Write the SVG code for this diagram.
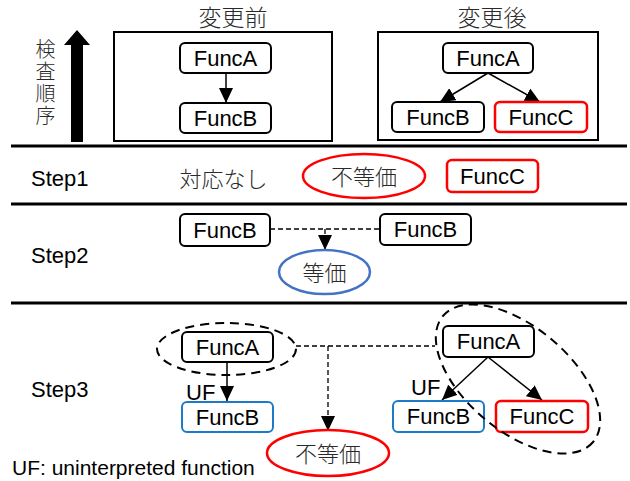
<svg xmlns="http://www.w3.org/2000/svg" width="630" height="481" viewBox="0 0 630 481">
  <style>
    .box { fill: #fff; stroke: #000; stroke-width: 2; }
    .box-red { fill: #fff; stroke: #ff0000; stroke-width: 2.5; }
    .box-blue { fill: #fff; stroke: #1c7bc9; stroke-width: 2; }
    .lbl { font-family: "Liberation Sans", Arial, sans-serif; font-size: 22px; fill: #000; text-anchor: middle; }
    .step { font-family: "Liberation Sans", Arial, sans-serif; font-size: 22px; fill: #000; }
    .jp { font-family: "Noto Sans CJK JP", "Noto Sans CJK SC", sans-serif; font-size: 22px; fill: #2a2a2a; font-weight: 300; text-anchor: middle; }
    .rule { stroke: #000; stroke-width: 3; }
    .frame { fill: none; stroke: #000; stroke-width: 2; }
    .edge { stroke: #000; stroke-width: 1.5; fill: none; }
    .dash { stroke: #000; stroke-width: 1.3; fill: none; stroke-dasharray: 5 3; }
    .group { fill: none; stroke: #000; stroke-width: 2; stroke-dasharray: 9 6; }
    .ell-red { fill: #fff; stroke: #ff0000; stroke-width: 2.5; }
    .ell-blue { fill: #fff; stroke: #4472c4; stroke-width: 2.5; }
  </style>
  <defs>
    <marker id="head" markerUnits="userSpaceOnUse" markerWidth="15" markerHeight="14" refX="15" refY="7" orient="auto">
      <path d="M0,0 L15,7 L0,14 z" fill="#000"/>
    </marker>
  </defs>

  <!-- section rules -->
  <line class="rule" x1="11" y1="146" x2="627" y2="146"/>
  <line class="rule" x1="11" y1="204" x2="627" y2="204"/>
  <line class="rule" x1="11" y1="303" x2="627" y2="303"/>

  <!-- check-order indicator -->
  <g id="order">
    <text class="jp" x="45.5" y="39" style="font-size:20px; writing-mode: vertical-rl; text-anchor: start; letter-spacing: 2px">検査順序</text>
    <polygon points="77,30 90,45 83,45 83,142 71,142 71,45 64,45" fill="#000"/>
  </g>

  <!-- before / after frames -->
  <g id="before">
    <text class="jp" x="233" y="26" style="font-size:23px">変更前</text>
    <rect class="frame" x="114" y="32" width="218" height="109"/>
  </g>
  <g id="after">
    <text class="jp" x="492" y="26" style="font-size:23px">変更後</text>
    <rect class="frame" x="378" y="32" width="220" height="108"/>
  </g>

  <!-- connectors -->
  <g id="connectors">
    <line class="edge" x1="226" y1="73" x2="226" y2="103" marker-end="url(#head)"/>
    <line class="edge" x1="488" y1="73" x2="440" y2="102" marker-end="url(#head)"/>
    <line class="edge" x1="488" y1="73" x2="540" y2="102" marker-end="url(#head)"/>
    <line class="dash" x1="270" y1="229" x2="380" y2="229"/>
    <line class="dash" x1="325" y1="229" x2="325" y2="250" marker-end="url(#head)"/>
    <line class="edge" x1="227" y1="362" x2="227" y2="401" marker-end="url(#head)"/>
    <line class="edge" x1="488" y1="357" x2="442" y2="400" marker-end="url(#head)"/>
    <line class="edge" x1="488" y1="357" x2="542" y2="400" marker-end="url(#head)"/>
    <line class="dash" x1="296" y1="346" x2="435" y2="346"/>
    <line class="dash" x1="328" y1="346" x2="328" y2="431" marker-end="url(#head)"/>
  </g>

  <!-- before graph -->
  <g id="before-funcA">
    <rect class="box" x="180" y="43" width="91" height="30" rx="5"/>
    <text class="lbl" x="225.5" y="66">FuncA</text>
  </g>
  <g id="before-funcB">
    <rect class="box" x="180" y="103" width="91" height="30" rx="5"/>
    <text class="lbl" x="225.5" y="126">FuncB</text>
  </g>

  <!-- after graph -->
  <g id="after-funcA">
    <rect class="box" x="443" y="43" width="90" height="30" rx="5"/>
    <text class="lbl" x="488" y="66">FuncA</text>
  </g>
  <g id="after-funcB">
    <rect class="box" x="392" y="102" width="92" height="30" rx="5"/>
    <text class="lbl" x="438" y="125">FuncB</text>
  </g>
  <g id="after-funcC">
    <rect class="box-red" x="495" y="102" width="92" height="30" rx="5"/>
    <text class="lbl" x="541" y="125">FuncC</text>
  </g>

  <!-- Step1 -->
  <text class="step" x="31" y="186">Step1</text>
  <g id="s1-none">
    <text class="jp" x="223.5" y="187">対応なし</text>
  </g>
  <g id="s1-neq">
    <ellipse class="ell-red" cx="364" cy="176" rx="61" ry="22"/>
    <text class="jp" x="364" y="185">不等価</text>
  </g>
  <g id="s1-funcC">
    <rect class="box-red" x="447" y="160" width="91" height="32" rx="5"/>
    <text class="lbl" x="492.5" y="184">FuncC</text>
  </g>

  <!-- Step2 -->
  <text class="step" x="31" y="263">Step2</text>
  <g id="s2-funcB-before">
    <rect class="box" x="180" y="214" width="90" height="32" rx="5"/>
    <text class="lbl" x="225" y="238">FuncB</text>
  </g>
  <g id="s2-funcB-after">
    <rect class="box" x="380" y="214" width="91" height="31" rx="5"/>
    <text class="lbl" x="425.5" y="237">FuncB</text>
  </g>
  <g id="s2-eq">
    <ellipse class="ell-blue" cx="324.5" cy="272" rx="45.5" ry="22"/>
    <text class="jp" x="324.5" y="281">等価</text>
  </g>

  <!-- Step3 -->
  <text class="step" x="31" y="397">Step3</text>
  <g id="s3-groupA">
    <ellipse class="group" cx="226.5" cy="349" rx="69.5" ry="26"/>
  </g>
  <g id="s3-funcA-before">
    <rect class="box" x="182" y="332" width="91" height="30" rx="5"/>
    <text class="lbl" x="227.5" y="355">FuncA</text>
  </g>
  <text class="step" x="186" y="400">UF</text>
  <g id="s3-funcB-before">
    <rect class="box-blue" x="182" y="402" width="91" height="30" rx="5"/>
    <text class="lbl" x="227.5" y="425">FuncB</text>
  </g>

  <g id="s3-funcA-after">
    <rect class="box" x="443" y="326" width="91" height="31" rx="5"/>
    <text class="lbl" x="488.5" y="349">FuncA</text>
  </g>
  <text class="step" x="411" y="395">UF</text>
  <g id="s3-funcB-after">
    <rect class="box-blue" x="393" y="401" width="91" height="31" rx="5"/>
    <text class="lbl" x="438.5" y="424">FuncB</text>
  </g>
  <g id="s3-funcC-after">
    <rect class="box-red" x="496" y="401" width="92" height="31" rx="5"/>
    <text class="lbl" x="542" y="424">FuncC</text>
  </g>
  <g id="s3-groupAC">
    <ellipse class="group" cx="518" cy="379" rx="98" ry="52" transform="rotate(40 518 379)"/>
  </g>
  <g id="s3-neq">
    <ellipse class="ell-red" cx="328" cy="453" rx="61" ry="23"/>
    <text class="jp" x="328" y="462">不等価</text>
  </g>

  <!-- legend -->
  <text class="step" x="12" y="475" style="font-size:21px">UF: uninterpreted function</text>
</svg>
